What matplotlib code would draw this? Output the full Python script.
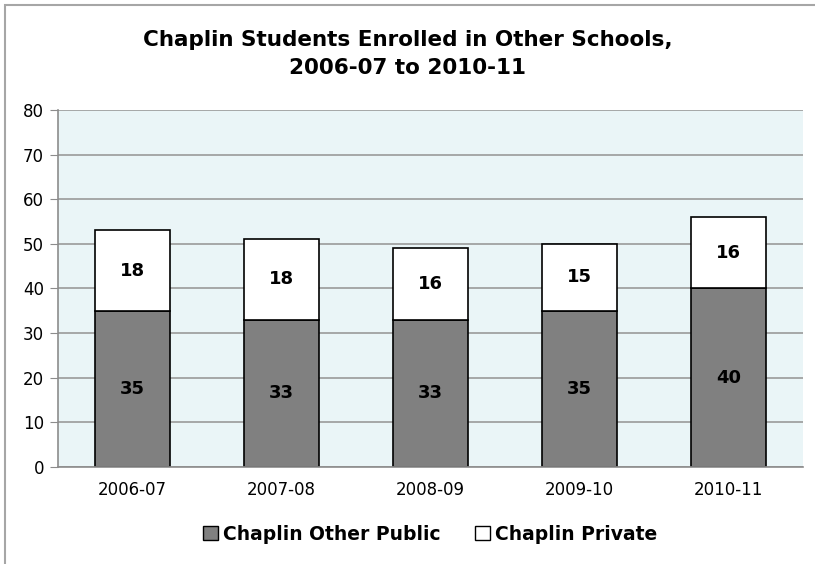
import matplotlib
matplotlib.use("Agg")
import matplotlib.pyplot as plt
from matplotlib.patches import Rectangle, Patch

years = ["2006-07", "2007-08", "2008-09", "2009-10", "2010-11"]
other_public = [35, 33, 33, 35, 40]
private = [18, 18, 16, 15, 16]
yticks = [0, 10, 20, 30, 40, 50, 60, 70, 80]

plt.rcParams['font.family'] = ['DejaVu Sans']

fig = plt.figure(figsize=(8.15, 5.64), dpi=100)
fig.patch.set_facecolor("white")
# chart border (left & top visible)
fig.add_artist(Rectangle((5/815, -0.1), 1.2, (564-5)/564 + 0.1, transform=fig.transFigure,
                         fill=False, edgecolor="#a6a6a6", linewidth=1.5))

ax = fig.add_axes([58/815, 1-466.7/564, (803-58)/815, (466.7-110)/564])
ax.set_facecolor("#eaf5f7")
x = range(len(years))
ax.set_axisbelow(True)
ax.yaxis.grid(True, color="#9a9a9a", linewidth=1.2)
ax.bar(x, other_public, width=0.5, color="#808080", edgecolor="black", linewidth=1.2,
       label="Chaplin Other Public")
ax.bar(x, private, width=0.5, bottom=other_public, color="white", edgecolor="black",
       linewidth=1.2, label="Chaplin Private")
for i in x:
    ax.text(i, other_public[i] / 2, str(other_public[i]), ha="center", va="center",
            fontsize=13, fontweight="bold", color="black")
    ax.text(i, other_public[i] + private[i] / 2, str(private[i]), ha="center", va="center",
            fontsize=13, fontweight="bold", color="black")

ax.set_xlim(-0.5, 4.5)
ax.set_ylim(0, 80)
ax.set_yticks(yticks)
ax.set_xticks(list(x))
ax.set_xticklabels(years)
ax.tick_params(axis="y", length=6, color="#8c8c8c", labelsize=12, pad=4)
ax.tick_params(axis="x", length=0, labelsize=12, pad=10)
for s in ["top", "right"]:
    ax.spines[s].set_visible(False)
for s in ["left", "bottom"]:
    ax.spines[s].set_color("#8c8c8c")
    ax.spines[s].set_linewidth(1.2)

fig.text(0.5, 1-40/564, "Chaplin Students Enrolled in Other Schools,", ha="center", va="center",
         fontsize=15.5, fontweight="bold")
fig.text(0.5, 1-68/564, "2006-07 to 2010-11", ha="center", va="center",
         fontsize=15.5, fontweight="bold")

handles = [Patch(facecolor="#808080", edgecolor="black", linewidth=1),
           Patch(facecolor="white", edgecolor="black", linewidth=1)]
fig.legend(handles, ["Chaplin Other Public", "Chaplin Private"], loc="center",
           bbox_to_anchor=(430/815, 1-534/564), ncol=2, frameon=False,
           prop={"weight": "bold", "size": 13.5}, handlelength=0.8, handleheight=0.8,
           handletextpad=0.3, columnspacing=1.8)

fig.savefig("out.png", dpi=100)
